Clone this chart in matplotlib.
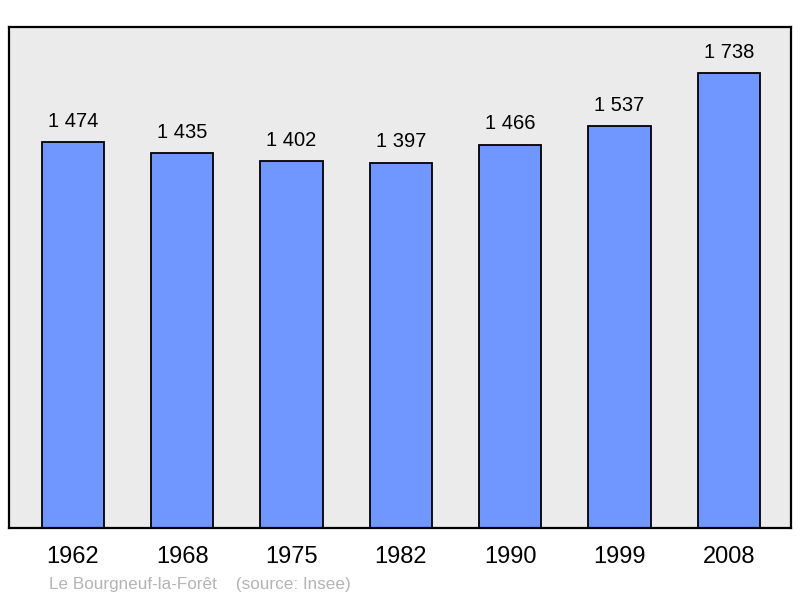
import matplotlib.pyplot as plt

plt.rcParams['font.family'] = ['Liberation Sans', 'DejaVu Sans']

# Population data
years = ["1962", "1968", "1975", "1982", "1990", "1999", "2008"]
population = [1474, 1435, 1402, 1397, 1466, 1537, 1738]
value_labels = ["1 474", "1 435", "1 402", "1 397", "1 466", "1 537", "1 738"]

fig = plt.figure(figsize=(8, 5.98), dpi=100)
ax = fig.add_axes([9 / 800, 70 / 598, 782 / 800, 501 / 598])
ax.set_facecolor("#ebebeb")

x = range(len(years))
bars = ax.bar(x, population, width=0.57, color="#7096ff",
              edgecolor="black", linewidth=1.3, zorder=2)

for b, lab in zip(bars, value_labels):
    ax.annotate(lab, (b.get_x() + b.get_width() / 2, b.get_height()),
                xytext=(0, 8), textcoords="offset points",
                ha="center", va="bottom", fontsize=14.5)

ax.set_xlim(-0.585, 6.57)
ax.set_ylim(0, max(population) * 1.102)
ax.set_xticks(list(x))
ax.set_xticklabels(years, fontsize=17)
ax.tick_params(axis="x", length=0, pad=13)
ax.set_yticks([])
for s in ax.spines.values():
    s.set_linewidth(1.6)

fig.text(49 / 800, 1 - 585 / 598, "Le Bourgneuf-la-Forêt    (source: Insee)",
         color="#b4b4b4", fontsize=12.3, va="center", ha="left")

fig.savefig("out.png", dpi=100)
